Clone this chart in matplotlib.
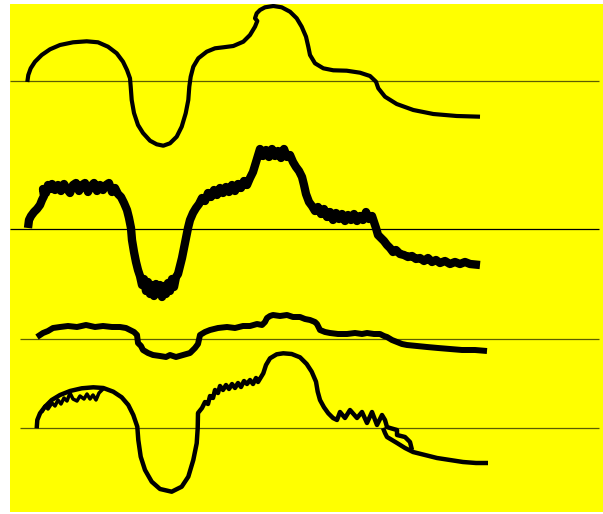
import matplotlib
matplotlib.use("Agg")
import matplotlib.pyplot as plt

# baselines (axis units, y grows downward)
baselines = [81, 229, 339, 428]
base_starts = [10, 10, 20, 20]
base_end = 599
base_colors = ['#5c5c00', '#000000', '#5c5c00', '#5c5c00']

# curve 1: smooth
c1_x = [27.3, 28.3, 30.7, 35, 41.7, 50, 60, 73, 86.7, 98, 108, 116.7, 123, 127, 130, 130.7,
        131.7, 134, 138, 143, 150, 156.7, 163.3, 170, 176.7, 181.7, 185.7, 188.3, 189.3, 190.7,
        193.3, 198.3, 206.7, 215, 223.3, 233.3, 243.3, 250, 255, 257.3, 255, 256.7, 260, 265,
        273.3, 281.7, 290, 296.7, 301.7, 306, 308.3, 310, 315, 323.3, 333.3, 346.7, 360, 370,
        376, 378.3, 385, 396.7, 413.3, 433.3, 456.7, 480]
c1_y = [82, 75, 68.3, 61.7, 55, 49.3, 45, 42.3, 41.3, 42.3, 46.7, 53.3, 61.7, 70, 78.3, 86.7,
        100, 113, 125, 133, 140.7, 144.3, 145.7, 143.3, 136.7, 126.7, 113.3, 100, 86.7, 76.7,
        66.7, 58.3, 51.7, 48.3, 47.3, 46, 41.7, 35, 26.7, 21, 18.3, 13.3, 10, 7.3,
        6, 7.3, 11.7, 18.3, 26.7, 36.7, 46.7, 55, 63.3, 68.3, 70.3, 70.7, 72.7, 76,
        81.7, 88.3, 96.7, 104, 110, 114, 116, 116.7]

# curve 2: noisy, heavy
c2_x = [28, 29, 31, 34, 37, 40, 42, 44, 43, 46, 48, 50, 52, 55, 58, 61, 64, 67, 70, 73, 76, 79,
        82, 85, 88, 91, 94, 97, 100, 103, 106, 109, 112, 115, 118, 121, 124, 127, 129, 131, 132,
        134, 136, 138, 140, 142, 144, 146, 148, 150, 152, 154, 156, 158, 160, 162, 164, 166, 168,
        170, 172, 174, 176, 178, 180, 182, 184, 186, 188, 190, 193, 196, 199, 202, 205, 208, 211,
        214, 217, 220, 223, 226, 229, 232, 235, 238, 241, 244, 247, 250, 253, 256, 258, 260, 263,
        266, 269, 272, 275, 278, 281, 284, 287, 290, 293, 296, 299, 302, 304, 306, 309, 312, 315,
        318, 321, 324, 327, 330, 333, 336, 339, 342, 345, 348, 351, 354, 357, 360, 363, 366, 369,
        372, 374, 376, 378, 381, 384, 387, 390, 393, 396, 400, 404, 408, 412, 416, 420, 424, 428,
        432, 436, 440, 445, 450, 455, 460, 465, 470, 480]
c2_y = [228, 220, 216, 212, 209, 205, 200, 196, 189, 193, 185, 189, 184, 190, 185, 191, 184, 189,
        193, 185, 183, 191, 185, 183, 192, 186, 183, 191, 185, 190, 185, 183, 192, 188, 194, 197,
        203, 210, 218, 228, 240, 252, 262, 270, 276, 285, 279, 291, 282, 294, 285, 296, 284, 293,
        285, 297, 286, 294, 283, 291, 279, 287, 277, 274, 266, 258, 248, 238, 228, 220, 213, 208,
        204, 198, 201, 193, 197, 190, 195, 188, 193, 187, 192, 185, 191, 184, 188, 181, 185, 178,
        172, 162, 155, 149, 156, 150, 157, 149, 156, 151, 158, 149, 157, 155, 162, 167, 171, 177,
        185, 194, 202, 206, 211, 207, 214, 209, 217, 212, 220, 213, 219, 214, 221, 215, 220, 214,
        221, 216, 220, 212, 219, 216, 222, 228, 235, 238, 241, 245, 248, 252, 250, 254, 255, 257,
        256, 259, 258, 261, 258, 262, 260, 263, 261, 264, 262, 264, 262, 264, 265]

# curve 3: flattened, slightly noisy
c3_x = [37, 40, 43, 48, 53, 60, 68, 77, 86, 95, 103, 112, 120, 126, 130, 134, 137, 138, 141,
        143, 148, 153, 160, 166, 170, 176, 183, 190, 195, 198, 200, 205, 210, 218, 227, 235,
        243, 250, 257, 262, 265, 267, 270, 273, 280, 287, 293, 300, 305, 310, 315, 317, 320,
        325, 330, 338, 347, 355, 362, 367, 374, 380, 384, 387, 392, 397, 402, 407, 417, 427,
        438, 450, 462, 475, 487]
c3_y = [337, 335, 333, 331, 328, 327, 326, 327, 325, 327, 326, 327, 327, 328, 330, 332, 335,
        343, 346, 350, 353, 355, 356, 357, 355, 357, 355, 353, 348, 344, 335, 332, 330, 328,
        327, 328, 326, 326, 324, 325, 322, 318, 316, 315, 316, 315, 317, 317, 319, 320, 322,
        324, 330, 332, 333, 334, 334, 333, 334, 333, 334, 334, 336, 337, 340, 342, 344, 345,
        346, 347, 348, 349, 350, 350, 351]

# curve 4: main stroke
c4_x = [36.7, 37.3, 40, 45, 51.7, 60, 70, 81.7, 93.3, 103.3, 113.3, 121.7, 128.3, 133.3, 137.3,
        138.3, 140.7, 145, 151.7, 160, 171.7, 181.7, 188.3, 193.3, 196.7, 197.7, 198, 202, 205,
        208, 210, 213, 215, 218, 220, 223, 226, 229, 232, 235, 238, 241, 244, 247, 250, 253, 256,
        258, 263.3, 266, 270, 276.7, 283.3, 291.7, 300, 306.7, 311.7, 316, 317.7, 320, 324, 328.3,
        333, 337, 340, 345, 350, 357, 362, 367, 372, 377, 382, 385, 387, 390, 397, 397, 405, 410,
        412]
c4_y = [428.3, 420, 413.3, 406.7, 400, 395, 391, 388.3, 387.3, 388, 391.7, 397.3, 405, 415,
        426.7, 440, 456.7, 470, 481.7, 489, 491.7, 486.7, 476.7, 460, 443.3, 428.3, 413, 408,
        402, 404, 396, 398, 390, 393, 386, 390, 385, 389, 384, 388, 383, 387, 381, 384, 380,
        384, 378, 382, 373.3, 365, 358.3, 354.3, 353.3, 354, 357.3, 364, 371.7, 381.7, 391.7,
        400, 407.3, 413.3, 418, 420, 412, 418, 410, 418, 412, 423, 412, 425, 415, 420, 427,
        428, 430, 435, 437, 442, 450]
# curve 4: lower tail
c4t_x = [383, 385, 387, 392, 397, 405, 413, 425, 437, 450, 463, 476, 488]
c4t_y = [428, 433, 437, 440, 443, 448, 452, 455, 458, 460, 462, 463, 463]
# curve 4: inner scribble under the first arc
c4s_x = [42, 45, 48, 52, 55, 58, 61, 64, 67, 70, 73, 77, 80, 84, 87, 90, 93, 96, 99, 103]
c4s_y = [412, 406, 409, 403, 406, 400, 404, 398, 401, 393, 399, 401, 396, 399, 394, 399, 395,
         400, 393, 389]

fig = plt.figure(figsize=(6.03, 5.14), dpi=100)
fig.patch.set_facecolor('white')
ax = fig.add_axes([10 / 603, 2 / 514, 593 / 603, 508 / 514])
ax.set_xlim(10, 603)
ax.set_ylim(512, 4)
ax.axis('off')
ax.add_patch(plt.Rectangle((10, 4), 593, 508, color='#ffff00', zorder=0))

for b, s, c in zip(baselines, base_starts, base_colors):
    ax.hlines(b, s, base_end, color=c, lw=0.9, zorder=1)

kw = dict(color='black', solid_joinstyle='round', solid_capstyle='butt', zorder=2)
ax.plot(c1_x, c1_y, lw=3.0, **kw)
ax.plot(c2_x, c2_y, lw=6.0, **kw)
ax.plot(c3_x, c3_y, lw=4.3, **kw)
ax.plot(c4_x, c4_y, lw=3.2, **kw)
ax.plot(c4t_x, c4t_y, lw=3.2, **kw)
ax.plot(c4s_x, c4s_y, lw=2.5, **kw)

fig.savefig('out.png', dpi=100, facecolor='white')
